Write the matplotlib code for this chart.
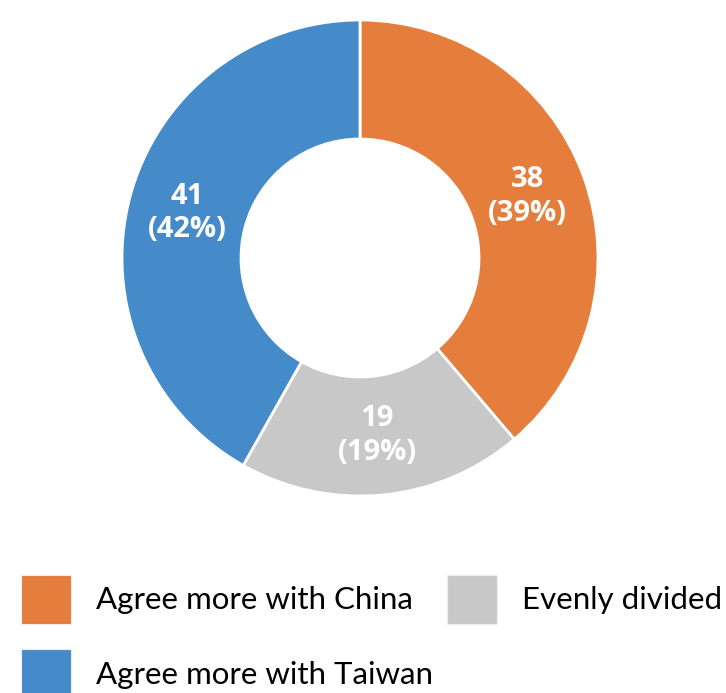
import matplotlib.pyplot as plt
from matplotlib.patches import Patch

# Survey split of responses
categories = ['Agree more with China', 'Evenly divided', 'Agree more with Taiwan']
counts = [38, 19, 41]
colors = ['#E57E3D', '#C8C8C8', '#468BC9']

W, H = 726, 693
fig = plt.figure(figsize=(W / 100, H / 100), dpi=100)

# donut: centre (360, 258) px, outer radius 238 px
cx, cy, R = 360, 258, 238
box = 250
ax = fig.add_axes([(cx - box) / W, (H - cy - box) / H, 2 * box / W, 2 * box / H])

total = sum(counts)
wedges, texts, autotexts = ax.pie(
    counts, colors=colors, startangle=90, counterclock=False, radius=1,
    wedgeprops=dict(width=0.5, edgecolor='white', linewidth=2),
    autopct=lambda p: '{:d}\n({:.0f}%)'.format(int(round(p * total / 100)), p),
    pctdistance=0.75,
    textprops=dict(color='white', fontsize=21, fontweight='bold',
                   family='Open Sans', linespacing=1.2),
)
ax.set_xlim(-box / R, box / R)
ax.set_ylim(-box / R, box / R)
ax.set_aspect('equal')
ax.axis('off')

# legend: China / Taiwan in first column, Evenly divided in second
order = [0, 2, 1]
handles = [Patch(facecolor=colors[i], edgecolor='#EEEEEE', linewidth=0.8) for i in order]
labels = [categories[i] for i in order]
fig.legend(handles, labels, ncol=2, loc='upper left',
           bbox_to_anchor=(8 / W, 1 - 562 / H), frameon=False,
           prop=dict(family='Lato', size=22.5), handlelength=1.6, handleheight=2.08,
           handletextpad=0.8, columnspacing=0.45, labelspacing=0.8, borderaxespad=0)

fig.savefig('out.png', dpi=100)
